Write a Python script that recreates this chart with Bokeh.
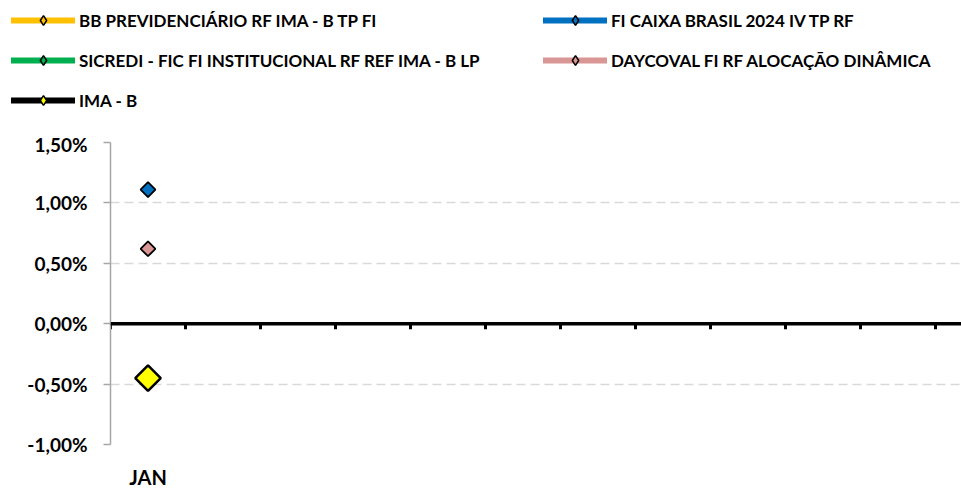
import numpy as np
from bokeh.plotting import figure
from bokeh.layouts import column
from bokeh.models import (Range1d, FixedTicker, CustomJSTickFormatter, Span,
                          Legend, LegendItem)
from bokeh.embed import file_html
from bokeh.resources import INLINE

months = ["JAN"]
series_names = [
    "BB PREVIDENCIÁRIO RF IMA - B TP FI",
    "FI CAIXA BRASIL 2024 IV TP RF",
    "SICREDI - FIC FI INSTITUCIONAL RF REF IMA - B LP",
    "DAYCOVAL FI RF ALOCAÇÃO DINÂMICA",
    "IMA - B",
]
bb = [-0.47]
caixa = [1.11]
sicredi = [-0.47]
daycoval = [0.62]
imab = [-0.45]
series_values = [bb, caixa, sicredi, daycoval, imab]
line_colors = ["#FFC000", "#0070C0", "#00B050", "#DA9694", "#000000"]
marker_fill = ["#FFC000", "#0070C0", "#00B050", "#DA9694", "#FFFF00"]
marker_sizes = [10.5, 10.5, 10.5, 10.5, 18]
legend_column = [0, 1, 0, 1, 0]
y_ticks = [-1.0, -0.5, 0.0, 0.5, 1.0, 1.5]
n_categories = 12
FONT = "Lato"

W = 961
LEG_FIG_H = 132
H = 491 - LEG_FIG_H
BL, BT, BB_, BR = 110, 10, 44, 0

xcenters = [i + 0.5 for i in range(len(months))]

# ---------------- main chart ----------------
p = figure(width=W, height=H, output_backend="svg", toolbar_location=None,
           x_range=Range1d(0, (W - BL - BR) / 75.0), y_range=Range1d(-1.0, 1.5),
           min_border_left=BL, min_border_right=BR, min_border_bottom=BB_,
           min_border_top=BT)
p.frame_align = False
p.outline_line_color = None
p.background_fill_color = "white"
p.border_fill_color = "white"

p.xgrid.grid_line_color = None
p.ygrid.ticker = FixedTicker(ticks=y_ticks)
p.ygrid.grid_line_color = "#D9D9D9"
p.ygrid.grid_line_width = 1.5
p.ygrid.grid_line_dash = "9 5"

p.yaxis.ticker = FixedTicker(ticks=y_ticks)
p.yaxis.formatter = CustomJSTickFormatter(
    code="return tick.toFixed(2).replace('.', ',') + '%';")
p.yaxis.axis_line_color = "#A6A6A6"
p.yaxis.axis_line_width = 1.5
p.yaxis.major_tick_line_color = "#A6A6A6"
p.yaxis.major_tick_line_width = 1.5
p.yaxis.major_tick_out = 7
p.yaxis.major_tick_in = 0
p.yaxis.minor_tick_line_color = None
p.yaxis.major_label_standoff = 16
p.yaxis.major_label_text_font = FONT
p.yaxis.major_label_text_font_style = "bold"
p.yaxis.major_label_text_font_size = "19px"
p.yaxis.major_label_text_color = "#000000"

p.xaxis.ticker = FixedTicker(ticks=xcenters)
p.xaxis.major_label_overrides = {xc: m for xc, m in zip(xcenters, months)}
p.xaxis.axis_line_color = None
p.xaxis.major_tick_line_color = None
p.xaxis.minor_tick_line_color = None
p.xaxis.major_tick_out = 0
p.xaxis.major_tick_in = 0
p.xaxis.major_label_standoff = 20
p.xaxis.major_label_text_font = FONT
p.xaxis.major_label_text_font_style = "bold"
p.xaxis.major_label_text_font_size = "20px"
p.xaxis.major_label_text_color = "#000000"

p.add_layout(Span(location=0, dimension="width", line_color="#000000",
                  line_width=3.5))
bounds = list(range(n_categories))
p.segment(x0=bounds, y0=[0] * len(bounds), x1=bounds,
          y1=[-0.045] * len(bounds), line_color="#000000", line_width=3)

for name, vals, lc, mf, ms in zip(series_names, series_values, line_colors,
                                   marker_fill, marker_sizes):
    xs = xcenters[:len(vals)]
    p.line(xs, vals, line_color=lc, line_width=6, line_cap="round")
for name, vals, mf, ms in zip(series_names, series_values, marker_fill,
                              marker_sizes):
    xs = xcenters[:len(vals)]
    p.scatter(xs, vals, marker="square", angle=np.pi / 4, size=ms,
              fill_color=mf, line_color="#000000",
              line_width=2.5 if name == "IMA - B" else 1.8)

# ---------------- legend strip ----------------
lf = figure(width=W, height=LEG_FIG_H, output_backend="svg",
            toolbar_location=None, x_range=Range1d(100, 101),
            y_range=Range1d(100, 101), min_border=0, min_border_left=0,
            min_border_right=0, min_border_top=0, min_border_bottom=0)
lf.frame_align = False
lf.outline_line_color = None
lf.axis.visible = False
lf.grid.visible = False
lf.background_fill_color = "white"
lf.border_fill_color = "white"

col_items = {0: [], 1: []}
for name, vals, lc, mf, col in zip(series_names, series_values, line_colors,
                                   marker_fill, legend_column):
    xs = xcenters[:len(vals)]
    lr = lf.line(xs, vals, line_color=lc, line_width=6, line_cap="round")
    dr = lf.scatter(xs, vals, marker="diamond", size=6, fill_color=mf,
                    line_color="#000000", line_width=1.5)
    col_items[col].append(LegendItem(label=name, renderers=[lr, dr]))

ITEM_H, SPACING = 24, 16
LEG_TOP = 8
col_x = {0: 11, 1: 543}
for col, its in col_items.items():
    leg_h = len(its) * ITEM_H + (len(its) - 1) * SPACING
    legend = Legend(items=its, orientation="vertical",
                    location=(col_x[col], LEG_FIG_H - (LEG_TOP + leg_h)),
                    glyph_width=64, glyph_height=ITEM_H,
                    label_standoff=4, label_height=20,
                    spacing=SPACING, padding=0,
                    margin=0, border_line_color=None, background_fill_alpha=0,
                    label_text_font=FONT, label_text_font_style="bold",
                    label_text_font_size="17px", label_text_color="#000000")
    lf.add_layout(legend, "center")

layout = column(lf, p, spacing=0)
open("out.html", "w").write(file_html(layout, INLINE))
